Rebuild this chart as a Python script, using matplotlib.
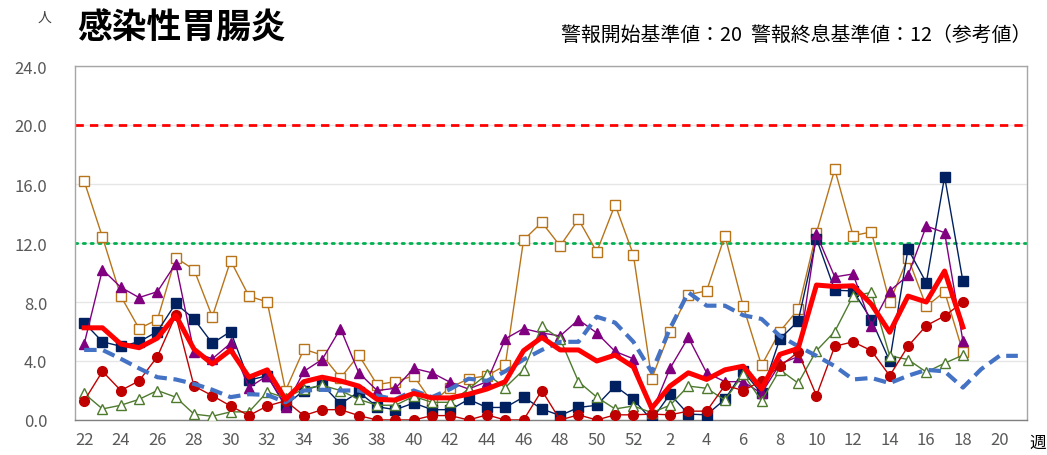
import matplotlib
matplotlib.use("Agg")
import matplotlib.pyplot as plt
import numpy as np

plt.rcParams['font.family'] = ['Noto Sans CJK JP', 'DejaVu Sans']

weeks = list(range(22, 53)) + list(range(1, 22))
tick_labels = [str(w) for w in weeks]
N = None

s_orange = [16.2, 12.4, 8.4, 6.2, 6.8, 11.0, 10.2, 7.0, 10.8, 8.4, 8.0,
            2.0, 4.8, 4.4, 2.85, 4.4, 2.4, 2.6, 3.0, 1.2, 2.2,
            2.8, 3.0, 3.7, 12.2, 13.4, 11.8, 13.6, 11.4, 14.6, 11.2,
            2.8, 6.0, 8.5, 8.75, 12.5, 7.7, 3.7, 6.0, 7.5, 12.7,
            17.0, 12.5, 12.75, 8.0, 11.0, 7.7, 8.7, 4.6, N, N, N]
s_navy = [6.6, 5.3, 5.0, 5.3, 6.0, 7.9, 6.85, 5.2, 6.0, 2.7, 3.0,
          1.0, 2.0, 2.4, 1.1, 1.9, 0.9, 0.7, 1.15, 0.7, 0.7,
          1.4, 0.85, 0.85, 1.55, 0.75, 0.3, 0.85, 1.0, 2.3, 1.4,
          0.0, 1.75, 0.4, 0.35, 1.4, 3.3, 1.8, 5.5, 6.7, 12.3,
          8.8, 8.75, 6.8, 4.0, 11.6, 9.3, 16.5, 9.4, N, N, N]
s_purple = [5.15, 10.2, 9.0, 8.3, 8.7, 10.6, 4.6, 4.15, 5.2, 2.2, 3.0,
            0.9, 3.3, 4.1, 6.2, 3.2, 2.0, 2.15, 3.5, 3.2, 2.55,
            2.1, 2.6, 5.5, 6.2, 5.9, 5.7, 6.8, 5.9, 4.65, 4.15,
            0.5, 3.5, 5.6, 3.2, 2.6, 2.6, 1.8, 3.8, 4.3, 12.6,
            9.7, 9.9, 6.4, 8.75, 9.8, 13.15, 12.7, 5.35, N, N, N]
s_green = [1.8, 0.75, 1.0, 1.4, 2.0, 1.55, 0.4, 0.25, 0.55, 0.55, 1.9,
           1.5, 2.1, 2.35, 2.0, 1.4, 1.0, 1.0, 1.6, 1.2, 1.2,
           2.1, 3.1, 2.2, 3.4, 6.35, 5.5, 2.6, 1.55, 0.75, 0.95,
           0.5, 1.0, 2.3, 2.15, 1.35, 3.1, 1.3, 3.4, 2.5, 4.7,
           6.0, 8.4, 8.65, 4.35, 4.1, 3.25, 3.85, 4.4, N, N, N]
s_darkred = [1.3, 3.3, 2.0, 2.65, 4.3, 7.1, 2.3, 1.65, 0.95, 0.3, 0.95,
             1.3, 0.3, 0.7, 0.7, 0.3, 0.0, 0.0, 0.0, 0.3, 0.3,
             0.0, 0.35, 0.0, 0.0, 2.0, 0.0, 0.35, 0.0, 0.35, 0.35,
             0.4, 0.35, 0.6, 0.6, 2.35, 2.0, 2.65, 3.65, 4.6, 1.65,
             5.0, 5.3, 4.7, 3.0, 5.0, 6.4, 7.05, 8.0, N, N, N]
s_current = [6.25, 6.25, 5.15, 4.9, 5.55, 7.1, 4.8, 3.8, 4.75, 2.9, 3.4,
             1.4, 2.6, 2.9, 2.65, 2.3, 1.4, 1.35, 1.8, 1.5, 1.5,
             1.75, 2.1, 2.6, 4.7, 5.6, 4.75, 4.75, 4.0, 4.4, 3.6,
             0.8, 2.3, 3.2, 2.75, 3.4, 3.65, 2.1, 4.45, 4.85, 9.15,
             9.05, 9.1, 7.85, 5.95, 8.4, 8.0, 10.1, 6.3, N, N, N]
s_avg = [4.75, 4.75, 4.15, 3.5, 2.9, 2.75, 2.45, 2.05, 1.55, 1.75, 1.7,
         1.2, 2.0, 2.05, 2.0, 2.0, 1.65, 1.4, 2.0, 1.55, 2.1,
         2.8, 2.65, 3.3, 4.1, 4.75, 5.3, 5.3, 7.0, 6.6, 5.3,
         3.25, 6.2, 8.65, 7.75, 7.75, 7.1, 6.85, 5.7, 5.0, 4.35,
         3.65, 2.75, 2.85, 2.5, 3.0, 3.4, 3.3, 2.2, 3.45, 4.35, 4.35]

alarm_start = 20
alarm_end = 12

def arr(v):
    return np.array([np.nan if x is None else x for x in v], dtype=float)

fig = plt.figure(figsize=(10.47, 4.56), dpi=100)
ax = fig.add_axes([75/1047, 1-421/456, (1027-75)/1047, (421-67)/456])
x = np.arange(len(weeks))

ax.axhline(alarm_start, color='#FF0000', lw=2.0, ls=(0, (3, 2.2)), zorder=2)
ax.axhline(alarm_end, color='#00B050', lw=2.0, ls=(0, (0.8, 2.0)), dash_capstyle='round', zorder=2)

ax.plot(x, arr(s_orange), color='#B8741A', lw=1.0, marker='s', ms=7.5,
        mfc='white', mec='#B8741A', mew=1.0, zorder=3)
ax.plot(x, arr(s_navy), color='#002060', lw=1.0, marker='s', ms=6.5,
        mfc='#002060', mec='#002060', zorder=4)
ax.plot(x, arr(s_purple), color='#800080', lw=1.0, marker='^', ms=7.5,
        mfc='#800080', mec='#800080', zorder=4)
ax.plot(x, arr(s_green), color='#4E7A2E', lw=1.0, marker='^', ms=7.5,
        mfc='white', mec='#4E7A2E', mew=1.0, zorder=4)
ax.plot(x, arr(s_darkred), color='#C00000', lw=1.0, marker='o', ms=7,
        mfc='#C00000', mec='#C00000', zorder=4)
ax.plot(x, arr(s_avg), color='#4472C4', lw=3.0, ls=(0, (3, 1.6)), zorder=5)
ax.plot(x, arr(s_current), color='#FF0000', lw=3.6, solid_joinstyle='round', zorder=6)

ax.set_xlim(-0.5, len(weeks) - 0.5)
ax.set_ylim(0, 24)
ax.set_yticks(np.arange(0, 24.1, 4))
ax.set_yticklabels([f"{v:.1f}" for v in np.arange(0, 24.1, 4)])
ax.set_xticks(x[::2])
ax.set_xticklabels(tick_labels[::2])
ax.tick_params(axis='both', length=0, labelsize=12, colors='#595959', pad=8)
ax.tick_params(axis='y', pad=20)
ax.grid(axis='y', color='#E6E6E6', lw=1.0, zorder=0)
ax.set_axisbelow(True)
for sp in ax.spines.values():
    sp.set_color('#A6A6A6')
    sp.set_linewidth(1.0)
ax.spines['bottom'].set_color('#808080')

fig.text(45/1047, 1-18/456, '人', fontsize=10, color='#404040', ha='center', va='center')
fig.text(77/1047, 1-28/456, '感染性胃腸炎', fontsize=25, fontweight='bold', color='#000000', ha='left', va='center')
fig.text(1031/1047, 1-35/456, '警報開始基準値：20  警報終息基準値：12（参考値）', fontsize=14.3,
         color='#000000', ha='right', va='center')
fig.text(1038/1047, 1-443/456, '週', fontsize=12, color='#000000', ha='center', va='center')

fig.savefig('out.png', dpi=100)
